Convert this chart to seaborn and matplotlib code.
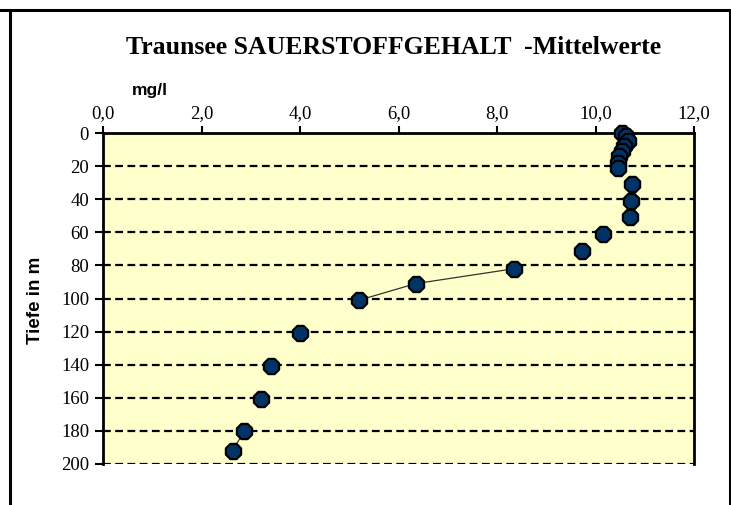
import matplotlib
matplotlib.use("Agg")
import matplotlib.pyplot as plt
import seaborn as sns
import pandas as pd
from matplotlib.lines import Line2D

# Mean oxygen content of the Traunsee by depth
depth = [0, 2, 5, 8, 11, 14, 18, 21, 31, 41, 51, 61, 71, 82, 91, 101, 121, 141, 161, 180, 192]
oxygen = [10.54, 10.62, 10.65, 10.58, 10.53, 10.48, 10.46, 10.46, 10.75, 10.73, 10.71,
          10.15, 9.72, 8.35, 6.35, 5.2, 4.0, 3.42, 3.2, 2.87, 2.63]
# runs of points joined by the thin connecting line (others stand alone)
line_run = [0, 0, 0, 0, 0, 0, 0, 0, 1, 2, 3, 4, 5, 6, 6, 6, 7, 8, 9, 10, 10]
x_ticks = [0, 2, 4, 6, 8, 10, 12]
y_ticks = [0, 20, 40, 60, 80, 100, 120, 140, 160, 180, 200]

df = pd.DataFrame({"depth": depth, "oxygen": oxygen, "run": line_run})

sns.set_theme(style="white")
plt.rcParams.update({"text.color": "black", "xtick.color": "black", "ytick.color": "black",
                     "axes.labelcolor": "black"})
serif = ["Liberation Serif", "DejaVu Serif"]
sans = ["Liberation Sans", "DejaVu Sans"]

fig = plt.figure(figsize=(7.31, 5.05), dpi=100)
fig.patch.set_facecolor("white")
ax = fig.add_axes([103 / 731, 41 / 505, 591 / 731, 331 / 505])
ax.set_facecolor("#FFFFCC")

# horizontal dashed grid lines
for t in y_ticks[1:]:
    ax.axhline(t, color="black", lw=1.6, ls=(0, (3.5, 2)), zorder=1)

sns.lineplot(data=df, x="oxygen", y="depth", units="run", sort=False, estimator=None,
             color="#333333", lw=0.9, ax=ax, zorder=2)
sns.scatterplot(data=df, x="oxygen", y="depth", marker="8", s=140,
                color="#003366", edgecolor="black", linewidth=1.6,
                ax=ax, zorder=3, clip_on=False)

ax.set_xlim(0, 12)
ax.set_ylim(200, 0)
ax.set_xticks(x_ticks)
ax.set_xticklabels([f"{v:.1f}".replace(".", ",") for v in x_ticks], family=serif,
                   fontsize=13.5, color="black")
ax.set_yticks(y_ticks)
ax.set_yticklabels([str(v) for v in y_ticks], family=serif, fontsize=13.5, color="black")
ax.xaxis.tick_top()
ax.tick_params(axis="x", direction="out", length=5, width=1.5, color="black", pad=3,
               top=True, bottom=False, labeltop=True, labelbottom=False)
ax.tick_params(axis="y", direction="out", length=6, width=1.5, color="black", pad=4, left=True)
ax.set_xlabel("")
ax.set_ylabel("")

for side in ["left", "top", "right"]:
    ax.spines[side].set_visible(True)
    ax.spines[side].set_color("black")
    ax.spines[side].set_linewidth(2)
ax.spines["bottom"].set_visible(False)

fig.text(394 / 731, 1 - 48 / 505, "Traunsee SAUERSTOFFGEHALT  -Mittelwerte",
         ha="center", va="center", family=serif, fontweight="bold", fontsize=18.5,
         color="black")
fig.text(150 / 731, 1 - 91 / 505, "mg/l", ha="center", va="center",
         family=sans, fontweight="bold", fontsize=12.5, color="black")
fig.text(36 / 731, 1 - 300 / 505, "Tiefe in m", ha="center", va="center", rotation=90,
         family=sans, fontweight="bold", fontsize=13.5, color="black")

# outer chart frame
fig.add_artist(Line2D([0, 730 / 731], [1 - 10 / 505, 1 - 10 / 505], color="black", lw=2.2,
                      transform=fig.transFigure))
fig.add_artist(Line2D([10 / 731, 10 / 731], [0, 1 - 10 / 505], color="black", lw=2.2,
                      transform=fig.transFigure))
fig.add_artist(Line2D([730 / 731, 730 / 731], [0, 1 - 10 / 505], color="black", lw=2.2,
                      transform=fig.transFigure))

fig.savefig("out.png", dpi=100)
